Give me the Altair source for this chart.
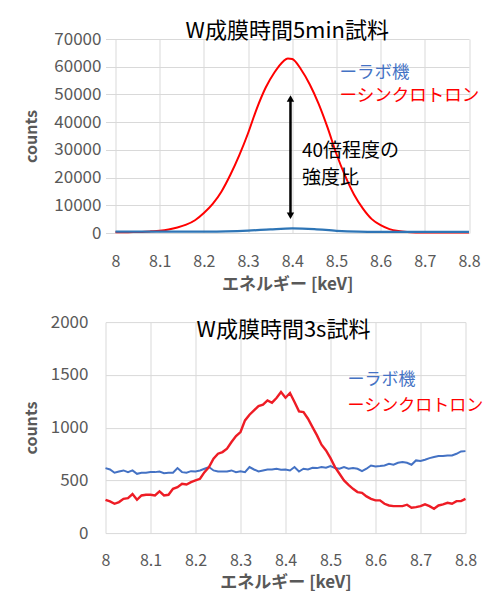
import altair as alt
import pandas as pd

FONT = "Noto Sans CJK JP"
GREY = "#595959"
GRID = "#d9d9d9"
RED = "#ff0000"
BLUE_TOP = "#2e75b6"
BLUE = "#4472c4"

x_ticks = [8.0, 8.1, 8.2, 8.3, 8.4, 8.5, 8.6, 8.7, 8.8]

# ---------- top panel (5 min) ----------
top_title = "W成膜時間5min試料"
top_x_domain = [7.9774, 8.8]   # upper plot starts a little left of 8.0
top_red_kev = [8.00, 8.02, 8.04, 8.06, 8.08, 8.10, 8.12, 8.14, 8.16, 8.18,
               8.20, 8.22, 8.24, 8.26, 8.28, 8.30, 8.32, 8.34, 8.36, 8.38,
               8.39, 8.40, 8.42, 8.44, 8.46, 8.48, 8.50, 8.52, 8.54, 8.56,
               8.58, 8.60, 8.62, 8.64, 8.66, 8.68, 8.70, 8.75, 8.80]
top_red_counts = [300, 300, 320, 400, 600, 850, 1300, 2000, 3000, 4600,
                  7200, 10500, 15000, 21000, 28000, 36000, 45000, 52500, 58000, 62000,
                  63000, 62800, 59000, 53500, 46500, 38000, 28500, 20500, 13800, 8800,
                  5000, 2800, 1400, 700, 350, 200, 150, 150, 150]
top_blue_kev = [8.00, 8.05, 8.10, 8.15, 8.20, 8.25, 8.30, 8.35, 8.40,
                8.45, 8.50, 8.55, 8.60, 8.65, 8.70, 8.75, 8.80]
top_blue_counts = [500, 480, 480, 500, 520, 600, 850, 1300, 1650,
                   1400, 800, 500, 420, 400, 380, 380, 380]
top_y_ticks = [0, 10000, 20000, 30000, 40000, 50000, 60000, 70000]

top_legend_kev = [8.507, 8.507]
top_legend_counts = [57700, 49300]
legend_labels = ["ーラボ機", "ーシンクロトロン"]
legend_colors = [BLUE, RED]

arrow_kev = [8.396]
arrow_low = [6200]
arrow_high = [48500]
note_kev = [8.422, 8.422]
note_counts = [29600, 19900]
note_lines = ["40倍程度の", "強度比"]

# ---------- bottom panel (3 s) ----------
bot_title = "W成膜時間3s試料"
bot_x_domain = [8.0, 8.8]
bot_kev = [round(8.0 + i * 0.01, 2) for i in range(81)]
bot_red_counts = [316, 300, 278, 294, 325, 332, 370, 316, 357, 363,
                  363, 357, 395, 357, 363, 420, 436, 468, 461, 483,
                  499, 515, 578, 626, 705, 753, 768, 800, 863, 920,
                  958, 1068, 1122, 1163, 1204, 1217, 1258, 1236, 1280, 1337,
                  1283, 1328, 1242, 1154, 1147, 1084, 1005, 926, 838, 784,
                  711, 626, 563, 499, 458, 420, 389, 382, 348, 325,
                  310, 310, 278, 262, 256, 256, 256, 269, 240, 246,
                  256, 272, 256, 231, 262, 272, 287, 278, 303, 303,
                  325]
bot_blue_counts = [616, 603, 572, 584, 594, 578, 594, 562, 572, 572,
                   578, 578, 584, 568, 572, 572, 616, 578, 572, 587,
                   584, 594, 610, 626, 594, 584, 584, 584, 594, 578,
                   587, 578, 626, 603, 584, 594, 603, 603, 610, 600,
                   603, 594, 626, 584, 610, 603, 619, 616, 626, 619,
                   635, 616, 610, 626, 610, 616, 610, 587, 610, 641,
                   632, 635, 641, 657, 648, 667, 673, 667, 648, 689,
                   683, 695, 711, 721, 730, 730, 736, 736, 752, 774,
                   777]
bot_y_ticks = [0, 500, 1000, 1500, 2000]
bot_legend_kev = [8.538, 8.538]
bot_legend_counts = [1447, 1207]


def x_enc(domain, label_pad, title_pad):
    return alt.X("keV:Q",
                 scale=alt.Scale(domain=domain, nice=False, zero=False),
                 axis=alt.Axis(values=x_ticks, format=".1~f", title="エネルギー [keV]",
                               labelFont=FONT, labelFontSize=16, labelColor=GREY,
                               labelPadding=label_pad, labelFlush=False,
                               titleFont=FONT, titleFontSize=17, titleFontWeight="bold",
                               titleColor=GREY, titlePadding=title_pad,
                               grid=True, gridColor=GRID, domain=False, ticks=False))


def y_enc(dmax, ticks, label_pad, title_pad):
    return alt.Y("counts:Q",
                 scale=alt.Scale(domain=[0, dmax], nice=False),
                 axis=alt.Axis(values=ticks, format="d", title="counts",
                               labelFont=FONT, labelFontSize=17, labelColor=GREY,
                               labelPadding=label_pad, labelOverlap=False,
                               titleFont=FONT, titleFontSize=16, titleFontWeight="bold",
                               titleColor=GREY, titlePadding=title_pad,
                               grid=True, gridColor=GRID, domain=False, ticks=False))


# top panel layers
df_top_red = pd.DataFrame({"keV": top_red_kev, "counts": top_red_counts})
df_top_blue = pd.DataFrame({"keV": top_blue_kev, "counts": top_blue_counts})
df_top_leg = pd.DataFrame({"keV": top_legend_kev, "counts": top_legend_counts,
                           "label": legend_labels, "color": legend_colors})
df_arrow = pd.DataFrame({"keV": arrow_kev, "counts": arrow_low, "top": arrow_high})
df_heads = pd.DataFrame({"keV": arrow_kev * 2, "counts": arrow_high + arrow_low,
                         "shape": ["triangle-up", "triangle-down"]})
df_note = pd.DataFrame({"keV": note_kev, "counts": note_counts, "label": note_lines})

t_red = alt.Chart(df_top_red).mark_line(color=RED, strokeWidth=2, interpolate="monotone")
t_blue = alt.Chart(df_top_blue).mark_line(color=BLUE_TOP, strokeWidth=2.2, interpolate="monotone")
t_rule = alt.Chart(df_arrow).mark_rule(color="black", strokeWidth=2.5).encode(y2="top:Q")
t_heads = alt.Chart(df_heads).mark_point(color="black", filled=True, opacity=1, size=55).encode(
    shape=alt.Shape("shape:N", scale=None))
t_note = alt.Chart(df_note).mark_text(align="left", baseline="middle", font=FONT,
                                      fontSize=19, color="black").encode(text="label:N")
t_leg = alt.Chart(df_top_leg).mark_text(align="left", baseline="middle", font=FONT,
                                        fontSize=17.5).encode(
    text="label:N", color=alt.Color("color:N", scale=None))

top = alt.layer(t_red, t_blue, t_rule, t_heads, t_note, t_leg).encode(
    x=x_enc(top_x_domain, 20, 7),
    y=y_enc(70000, top_y_ticks, 4.5, 14),
).properties(
    width=363.5, height=194,
    title=alt.TitleParams(top_title, font=FONT, fontSize=22, fontWeight="normal",
                          color="black", anchor="middle", offset=-13, frame="group"))

# bottom panel layers
df_bot_red = pd.DataFrame({"keV": bot_kev, "counts": bot_red_counts})
df_bot_blue = pd.DataFrame({"keV": bot_kev, "counts": bot_blue_counts})
df_bot_leg = pd.DataFrame({"keV": bot_legend_kev, "counts": bot_legend_counts,
                           "label": legend_labels, "color": legend_colors})

b_blue = alt.Chart(df_bot_blue).mark_line(color=BLUE, strokeWidth=2)
b_red = alt.Chart(df_bot_red).mark_line(color="#ee1c25", strokeWidth=2.4)
b_leg = alt.Chart(df_bot_leg).mark_text(align="left", baseline="middle", font=FONT,
                                        fontSize=17).encode(
    text="label:N", color=alt.Color("color:N", scale=None))

bottom = alt.layer(b_blue, b_red, b_leg).encode(
    x=x_enc(bot_x_domain, 19.7, 6),
    y=y_enc(2000, bot_y_ticks, 17.5, 11),
).properties(
    width=360, height=211,
    title=alt.TitleParams(bot_title, font=FONT, fontSize=22, fontWeight="normal",
                          color="black", anchor="middle", offset=-29, dx=-2))

chart = alt.vconcat(top, bottom, spacing=21.1).properties(
    padding={"left": 14.5, "top": 12, "right": 0, "bottom": 0},
    background="white",
).configure_view(stroke=None)

chart.save("out.html", embed_options={"renderer": "svg", "actions": False})
